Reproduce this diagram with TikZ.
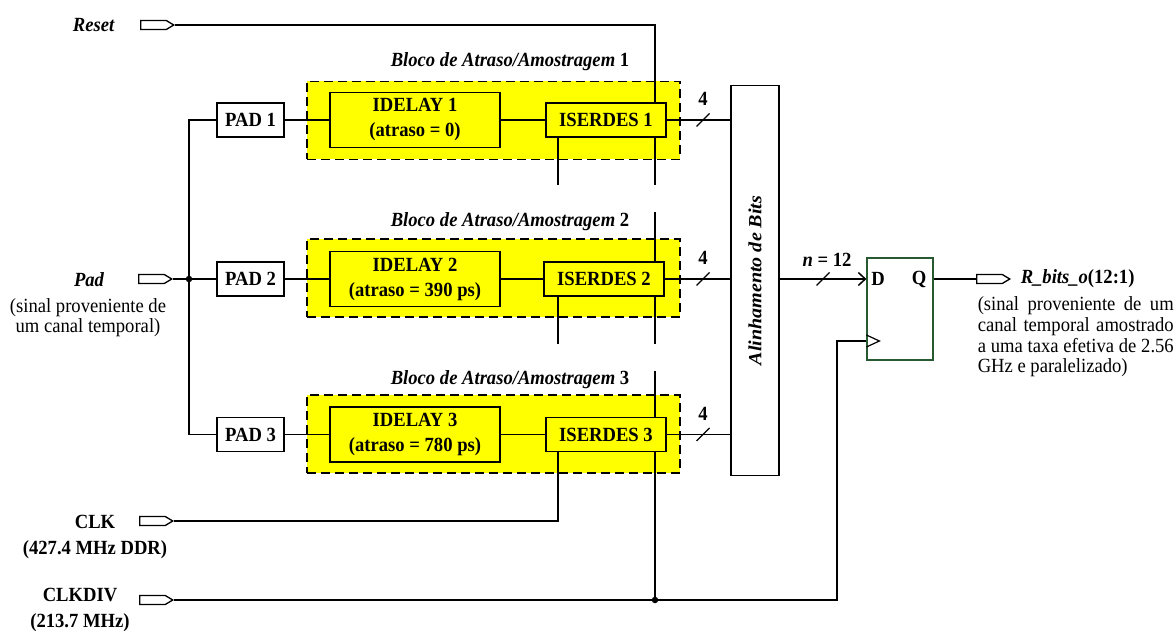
\documentclass[tikz,border=0pt]{standalone}
\usepackage{fontspec}
\setmainfont{Liberation Serif}[FakeStretch=0.926]
\newfontfamily\rotfont{Liberation Serif}[FakeStretch=1.08]
\usetikzlibrary{shapes.symbols,arrows.meta,calc}
\definecolor{blkyellow}{RGB}{255,255,0}
\definecolor{ffgreen}{RGB}{40,90,50}
\newcommand{\lblfont}{\fontsize{20.1}{20.7}\selectfont}
\begin{document}
\begin{tikzpicture}[x=1pt,y=-1pt,line width=1.5pt,
  txt/.style={font=\lblfont\bfseries,inner sep=0pt},
  itxt/.style={font=\lblfont\bfseries\itshape,inner sep=0pt},
  padbox/.style={draw,fill=white,txt,minimum width=67pt,minimum height=34pt},
  idlbox/.style={draw,fill=blkyellow,inner sep=0pt,align=center,
    font=\fontsize{20.1}{25}\selectfont\bfseries,minimum width=170pt,minimum height=55pt},
  serbox/.style={draw,fill=blkyellow,txt,minimum width=120pt,minimum height=34pt},
  blk/.style={draw,fill=blkyellow,dash pattern=on 9pt off 5pt,
    minimum width=373pt,minimum height=78pt,inner sep=0pt},
  port/.style={signal,signal to=east,draw,fill=white,line width=1.3pt,
    minimum width=33pt,minimum height=9pt,inner sep=0pt,signal pointer angle=62},
  junction/.style={circle,fill,inner sep=0pt,minimum size=6.5pt},
  slash/.style={line width=1.3pt}]
\useasboundingbox (0,0) rectangle (1176,631);

% column positions of the control stubs and slashes
\coordinate (xa) at (558,0);
\coordinate (xb) at (655,0);
\coordinate (xc) at (837,0);
\coordinate (sx) at (703,0);
\coordinate (sy) at (823,0);

% delay/sampling blocks (dashed, yellow)
\node[blk] (b1) at (493.5,120.5) {};
\node[blk] (b2) at (493.5,278) {};
\node[blk] (b3) at (493.5,434) {};
\node[itxt] (t1) at (510,62) {Bloco de Atraso/Amostragem \upshape 1};
\node[itxt] (t2) at (510,222) {Bloco de Atraso/Amostragem \upshape 2};
\node[itxt] (t3) at (510,380) {Bloco de Atraso/Amostragem \upshape 3};

% pads
\node[padbox] (pad1) at (250.5,120) {PAD 1};
\node[padbox] (pad2) at (250.5,279) {PAD 2};
\node[padbox] (pad3) at (250.5,434.5) {PAD 3};

% delay elements
\node[idlbox] (idl1) at (415,120) {IDELAY 1\\(atraso = 0)};
\node[idlbox] (idl2) at (415,279) {IDELAY 2\\(atraso = 390 ps)};
\node[idlbox] (idl3) at (415,434.5) {IDELAY 3\\(atraso = 780 ps)};

% deserializers
\node[serbox] (iser1) at (606,120) {ISERDES 1};
\node[serbox] (iser2) at (604,279) {ISERDES 2};
\node[serbox] (iser3) at (606,434.5) {ISERDES 3};

% bit alignment
\node[draw,fill=white,minimum width=48pt,minimum height=390pt,inner sep=0pt] (alin) at (755,280.5) {};
\node[rotate=90,inner sep=0pt,font=\fontsize{18.6}{20}\rotfont\bfseries\itshape] (alint) at (alin.center) {Alinhamento de Bits};

% output register
\node[draw=ffgreen,line width=1.2pt,minimum width=66pt,minimum height=102pt,inner sep=0pt] (ff) at (900,309) {};
\node[txt] (dl) at (878,279) {D};
\node[txt] (ql) at (919,279) {Q};
\coordinate (ckin) at ($(ff.west)+(0,32)$);
\draw[line width=1.2pt] ($(ff.west)+(0,26)$) -- ++(13,6) -- ++(-13,6);

% input ports and labels
\node[port] (rstp) at (153.5,25) {};
\node[itxt,anchor=east] (rstl) at (115,25) {Reset};
\node[port] (padp) at (151.5,279) {};
\node[itxt] (padl) at (89,280) {Pad};
\node[font=\fontsize{20.1}{20}\selectfont,inner sep=0pt,align=center,anchor=north] (padd) at (88,298)
  {(sinal proveniente de\\um canal temporal)};
\node[port] (clkp) at (152.5,521) {};
\node[txt] (clkl) at (95,522) {CLK};
\node[txt] (clkf) at (95,550) {(427.4 MHz DDR)};
\node[port] (cdp) at (152.5,600) {};
\node[txt] (cdl) at (80,595) {CLKDIV};
\node[txt] (cdf) at (80,623) {(213.7 MHz)};

% output port and description
\node[port] (rbp) at (989.5,279) {};
\node[txt,anchor=west] (rbl) at (1020,279) {\textit{R\_bits\_o}(12:1)};
\node[font=\lblfont,inner sep=0pt,align=left,anchor=north west] (rbd) at (977,296)
  {\makebox[196pt][s]{(sinal proveniente de um}\\
   \makebox[196pt][s]{canal temporal amostrado}\\
   \makebox[196pt][s]{a uma taxa efetiva de 2.56}\\
   GHz e paralelizado)};

% input distribution to the pads
\coordinate (pj) at (189,279);
\draw (padp.east) -- (pad2.west);
\draw (pad1.west) -| (pj) |- (pad3.west);
\node[junction] (pjd) at (pj) {};

% signal chain through each block
\foreach \i in {1,2,3} {
  \draw (pad\i.east) -- (idl\i.west);
  \draw (idl\i.east) -- (iser\i.west);
  \draw (iser\i.east) -- (iser\i.east -| alin.west);
  \draw[slash] ($(iser\i.east -| sx)+(-6.5,6.5)$) -- ++(13,-13);
  \node[txt] at ($(iser\i.east -| sx)+(0,-21)$) {4};
}

% reset and clock stubs on the deserializers
\draw (rstp.east) -| (iser1.north -| xb);
\draw (iser1.south -| xa) -- ++(0,47);
\draw (iser1.south -| xb) -- ++(0,47);
\draw (iser2.north -| xb) -- ++(0,-49);
\draw (iser2.south -| xa) -- ++(0,47);
\draw (iser2.south -| xb) -- ++(0,47);
\draw (iser3.north -| xb) -- ++(0,-46);
\draw (iser3.south -| xa) |- (clkp.east);
\draw (iser3.south -| xb) -- (cdp.east -| xb);
\node[junction] (cdj) at (cdp.east -| xb) {};
\draw (cdp.east) -| (ckin -| xc) -- (ckin);

% aligned word into the register
\draw[-{Straight Barb[length=7pt,width=13pt]}] (alin.east |- dl) -- (ff.west |- dl);
\draw[slash] ($(dl -| sy)+(-6.5,6.5)$) -- ++(13,-13);
\node[txt] (nl) at (827,260) {\textit{n} = 12};
\draw (ff.east |- ql) -- (rbp.west);
\end{tikzpicture}
\end{document}
